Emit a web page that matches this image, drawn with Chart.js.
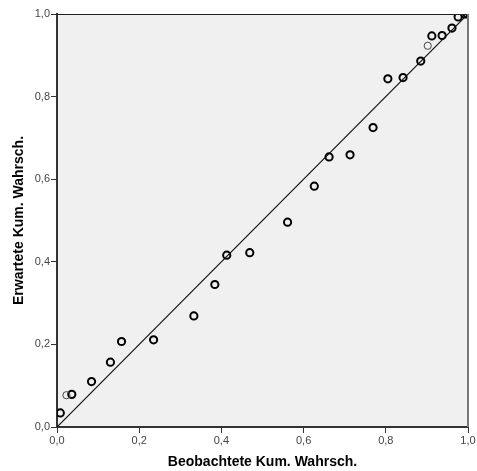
<!DOCTYPE html>
<html>
<head>
<meta charset="utf-8">
<script src="https://cdn.jsdelivr.net/npm/chart.js@4.4.1/dist/chart.umd.min.js"></script>
<style>
  body { margin: 0; background: #fff; }
  #wrap { width: 477px; height: 471px; }
</style>
</head>
<body>
<div id="wrap"><canvas id="pp"></canvas></div>
<script>
// ===== Data =====
let observed = [0.008, 0.036, 0.084, 0.130, 0.157, 0.235, 0.333, 0.384, 0.413, 0.469,
  0.561, 0.626, 0.662, 0.713, 0.769, 0.805, 0.842, 0.885, 0.912, 0.937, 0.961, 0.976, 0.992, 0.998];
let expected = [0.034, 0.079, 0.110, 0.157, 0.207, 0.211, 0.269, 0.345, 0.416, 0.422,
  0.496, 0.583, 0.654, 0.659, 0.725, 0.843, 0.846, 0.886, 0.947, 0.948, 0.966, 0.993, 1.0, 1.0];

// lighter points (drawn thinner in the original)
let observedLight = [0.023, 0.902];
let expectedLight = [0.077, 0.923];

let tickValues = [0, 0.2, 0.4, 0.6, 0.8, 1.0];

function toPoints(xs, ys) {
  return xs.map((x, i) => ({ x: x, y: ys[i] }));
}

function fmt(v) {
  return v.toFixed(1).replace(".", ",");
}

// ===== Plot frame =====
let framePlugin = {
  id: "frame",
  beforeDraw(chart) {
    let { ctx, chartArea: a } = chart;
    ctx.save();
    ctx.fillStyle = "#f0f0f0";
    ctx.fillRect(a.left, a.top, a.right - a.left, a.bottom - a.top);
    ctx.restore();
  },
  afterDraw(chart) {
    let { ctx, chartArea: a } = chart;
    ctx.save();
    ctx.strokeStyle = "#222";
    ctx.lineWidth = 1;
    ctx.beginPath();
    ctx.moveTo(a.left, a.top + 0.5);
    ctx.lineTo(a.right, a.top + 0.5);
    ctx.stroke();
    ctx.strokeStyle = "#777";
    ctx.lineWidth = 2;
    ctx.beginPath();
    ctx.moveTo(a.right, a.top);
    ctx.lineTo(a.right, a.bottom);
    ctx.stroke();
    ctx.restore();
  }
};

// ===== Chart =====
let scaleCommon = {
  type: "linear",
  min: 0,
  max: 1,
  afterBuildTicks: s => { s.ticks = tickValues.map(v => ({ value: v })); },
  grid: { drawOnChartArea: false, drawTicks: true, tickLength: 6, color: "#333", lineWidth: 1 },
  border: { color: "#333", width: 2 },
  ticks: {
    color: "#444",
    font: { family: "Liberation Sans", size: 11 },
    padding: 1,
    callback: v => fmt(v)
  }
};

new Chart(document.getElementById("pp"), {
  type: "scatter",
  data: {
    datasets: [
      {
        type: "line",
        data: [{ x: 0, y: 0 }, { x: 1, y: 1 }],
        borderColor: "#111",
        borderWidth: 1.2,
        pointRadius: 0,
        fill: false
      },
      {
        data: toPoints(observedLight, expectedLight),
        pointRadius: 3.6,
        pointBorderWidth: 1,
        pointBorderColor: "#444",
        pointBackgroundColor: "rgba(0,0,0,0)"
      },
      {
        data: toPoints(observed, expected),
        pointRadius: 3.6,
        pointBorderWidth: 2,
        pointBorderColor: "#000",
        pointBackgroundColor: "rgba(0,0,0,0)"
      }
    ]
  },
  options: {
    responsive: true,
    maintainAspectRatio: false,
    animation: false,
    layout: { padding: { left: 0, right: 9, top: 14, bottom: 0 } },
    plugins: { legend: { display: false }, tooltip: { enabled: false } },
    scales: {
      x: {
        ...scaleCommon,
        afterFit: s => { s.height = 44; },
        title: {
          display: true,
          text: "Beobachtete Kum. Wahrsch.",
          color: "#000",
          font: { family: "Liberation Sans", size: 14, weight: "bold" },
          padding: { top: 10, bottom: 0 }
        }
      },
      y: {
        ...scaleCommon,
        afterFit: s => { s.width = 57; },
        title: {
          display: true,
          text: "Erwartete Kum. Wahrsch.",
          color: "#000",
          font: { family: "Liberation Sans", size: 14, weight: "bold" },
          padding: { top: 11, bottom: 0 }
        }
      }
    }
  },
  plugins: [framePlugin]
});
</script>
</body>
</html>
